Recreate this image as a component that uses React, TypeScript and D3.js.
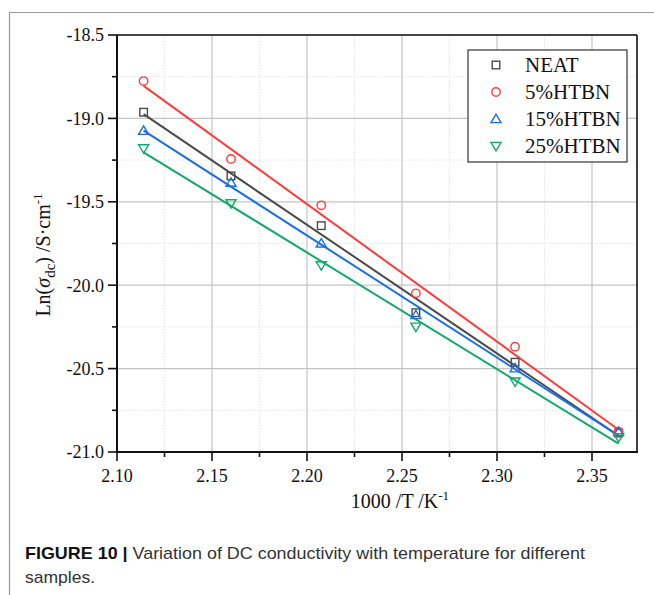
import React from "react";
import * as d3 from "d3";

const xValues = [2.114, 2.160, 2.2075, 2.2573, 2.3095, 2.364];
const seriesNames = ["NEAT", "5%HTBN", "15%HTBN", "25%HTBN"];
const neat = [-18.963, -19.345, -19.643, -20.165, -20.462, -20.886];
const htbn5 = [-18.776, -19.243, -19.521, -20.049, -20.369, -20.878];
const htbn15 = [-19.074, -19.385, -19.749, -20.179, -20.498, -20.88];
const htbn25 = [-19.18, -19.509, -19.881, -20.249, -20.578, -20.912];
const seriesColors = ["#4a4a4a", "#ff3b3b", "#1a6fe6", "#14a86a"];
const markerTypes = ["square", "circle", "triangle", "triangleDown"];
const xTicks = [2.10, 2.15, 2.20, 2.25, 2.30, 2.35];
const xMinor = [2.125, 2.175, 2.225, 2.275, 2.325];
const yTicks = [-18.5, -19.0, -19.5, -20.0, -20.5, -21.0];
const yMinor = [-18.75, -19.25, -19.75, -20.25, -20.75];

const allSeries = [neat, htbn5, htbn15, htbn25];

function fit(xs: number[], ys: number[]) {
  const n = xs.length;
  const mx = d3.mean(xs)!;
  const my = d3.mean(ys)!;
  let sxy = 0, sxx = 0;
  for (let i = 0; i < n; i++) {
    sxy += (xs[i] - mx) * (ys[i] - my);
    sxx += (xs[i] - mx) * (xs[i] - mx);
  }
  const b = sxy / sxx;
  return (x: number) => my + b * (x - mx);
}

function Marker({ type, x, y, color }: { type: string; x: number; y: number; color: string }) {
  const sw = 1.4;
  if (type === "square") {
    return <rect x={x - 3.8} y={y - 3.8} width={7.6} height={7.6} fill="none" stroke={color} strokeWidth={sw} />;
  }
  if (type === "circle") {
    return <circle cx={x} cy={y} r={4.2} fill="none" stroke={color} strokeWidth={sw} />;
  }
  if (type === "triangle") {
    return <path d={`M${x},${y - 4.8}L${x + 5},${y + 3.6}L${x - 5},${y + 3.6}Z`} fill="none" stroke={color} strokeWidth={sw} />;
  }
  return <path d={`M${x},${y + 4.8}L${x + 5},${y - 3.6}L${x - 5},${y - 3.6}Z`} fill="none" stroke={color} strokeWidth={sw} />;
}

export default function App() {
  const W = 654, H = 595;
  const left = 117, right = 637, top = 35, bottom = 452;
  const x = d3.scaleLinear().domain([2.10, 2.10 + (right - left) / 1900]).range([left, right]);
  const y = d3.scaleLinear().domain([-21.0, -18.5]).range([bottom, top]);
  const serif = "Liberation Serif, Times New Roman, serif";
  const sans = "Liberation Sans, Arial, sans-serif";

  return (
    <svg width={W} height={H} style={{ position: "absolute", left: 0, top: 0, background: "#fff" }}>
      <rect x={0} y={0} width={W} height={H} fill="#fff" />
      {/* outer frame */}
      <line x1={9.5} y1={12.5} x2={W} y2={12.5} stroke="#9a9a9a" strokeWidth={1.2} />
      <line x1={9.5} y1={12.5} x2={9.5} y2={H} stroke="#9a9a9a" strokeWidth={1.2} />

      {/* minor grid */}
      {xMinor.map((t) => (
        <line key={"xm" + t} x1={x(t)} x2={x(t)} y1={top} y2={bottom} stroke="#e4e4e4" strokeWidth={1} strokeDasharray="1.5,1.5" />
      ))}
      {yMinor.map((t) => (
        <line key={"ym" + t} x1={left} x2={right} y1={y(t)} y2={y(t)} stroke="#e4e4e4" strokeWidth={1} strokeDasharray="1.5,1.5" />
      ))}
      {/* major grid */}
      {xTicks.map((t) => (
        <line key={"xg" + t} x1={x(t)} x2={x(t)} y1={top} y2={bottom} stroke="#c4c4c4" strokeWidth={1.2} />
      ))}
      {yTicks.map((t) => (
        <line key={"yg" + t} x1={left} x2={right} y1={y(t)} y2={y(t)} stroke="#c4c4c4" strokeWidth={1.2} />
      ))}

      {/* fit lines */}
      {allSeries.map((ys, i) => {
        const f = fit(xValues, ys);
        const x0 = xValues[0], x1 = xValues[xValues.length - 1];
        return (
          <line key={"fit" + i} x1={x(x0)} y1={y(f(x0))} x2={x(x1)} y2={y(f(x1))} stroke={seriesColors[i]} strokeWidth={2} />
        );
      })}
      {/* markers */}
      {allSeries.map((ys, i) =>
        ys.map((v, j) => <Marker key={"m" + i + "-" + j} type={markerTypes[i]} x={x(xValues[j])} y={y(v)} color={seriesColors[i]} />)
      )}

      {/* frame of plot */}
      <line x1={left} x2={right} y1={top} y2={top} stroke="#111" strokeWidth={1.6} />
      <line x1={right} x2={right} y1={top} y2={bottom} stroke="#111" strokeWidth={1.6} />
      <line x1={left} x2={left} y1={top} y2={bottom + 1} stroke="#111" strokeWidth={2} />
      <line x1={left - 1} x2={right + 1} y1={bottom} y2={bottom} stroke="#111" strokeWidth={2} />

      {/* y ticks */}
      {yTicks.map((t) => (
        <g key={"yt" + t}>
          <line x1={left - 9} x2={left} y1={y(t)} y2={y(t)} stroke="#111" strokeWidth={1.6} />
          <text x={left - 13} y={y(t)} dy="0.35em" textAnchor="end" fontFamily={serif} fontSize={18} fill="#111">
            {t.toFixed(1)}
          </text>
        </g>
      ))}
      {yMinor.map((t) => (
        <line key={"ymt" + t} x1={left - 5} x2={left} y1={y(t)} y2={y(t)} stroke="#111" strokeWidth={1.6} />
      ))}
      {/* x ticks */}
      {xTicks.map((t) => (
        <g key={"xt" + t}>
          <line x1={x(t)} x2={x(t)} y1={bottom} y2={bottom + 9} stroke="#111" strokeWidth={1.6} />
          <text x={x(t)} y={482} textAnchor="middle" fontFamily={serif} fontSize={18} fill="#111">
            {t.toFixed(2)}
          </text>
        </g>
      ))}
      {xMinor.map((t) => (
        <line key={"xmt" + t} x1={x(t)} x2={x(t)} y1={bottom} y2={bottom + 5} stroke="#111" strokeWidth={1.6} />
      ))}

      {/* axis titles */}
      <text x={400} y={508} textAnchor="middle" fontFamily={serif} fontSize={20} fill="#111">
        1000 /T /K
        <tspan dy={-8} fontSize={13}>-1</tspan>
      </text>
      <text transform="translate(50,255) rotate(-90)" textAnchor="middle" fontFamily={serif} fontSize={20} fill="#111">
        Ln(
        <tspan fontStyle="italic">σ</tspan>
        <tspan dy={5} fontSize={15}>dc</tspan>
        <tspan dy={-5}>) /S·cm</tspan>
        <tspan dy={-8} fontSize={13}>-1</tspan>
      </text>

      {/* legend */}
      <rect x={468} y={50} width={159} height={112} fill="#fff" stroke="#333" strokeWidth={1.2} />
      {seriesNames.map((name, i) => {
        const cy = 65 + i * 27;
        return (
          <g key={"lg" + name}>
            <Marker type={markerTypes[i]} x={496} y={cy} color={seriesColors[i]} />
            <text x={525} y={cy} dy="0.35em" fontFamily={serif} fontSize={21} fill="#111">
              {name}
            </text>
          </g>
        );
      })}

      {/* caption */}
      <text x={25} y={559} fontFamily={sans} fontSize={17} fill="#333" textLength={560} lengthAdjust="spacingAndGlyphs">
        <tspan fontWeight="bold" fill="#111">FIGURE 10 |</tspan> Variation of DC conductivity with temperature for different
      </text>
      <text x={25} y={583} fontFamily={sans} fontSize={17} fill="#333" textLength={70} lengthAdjust="spacingAndGlyphs">
        samples.
      </text>
    </svg>
  );
}
